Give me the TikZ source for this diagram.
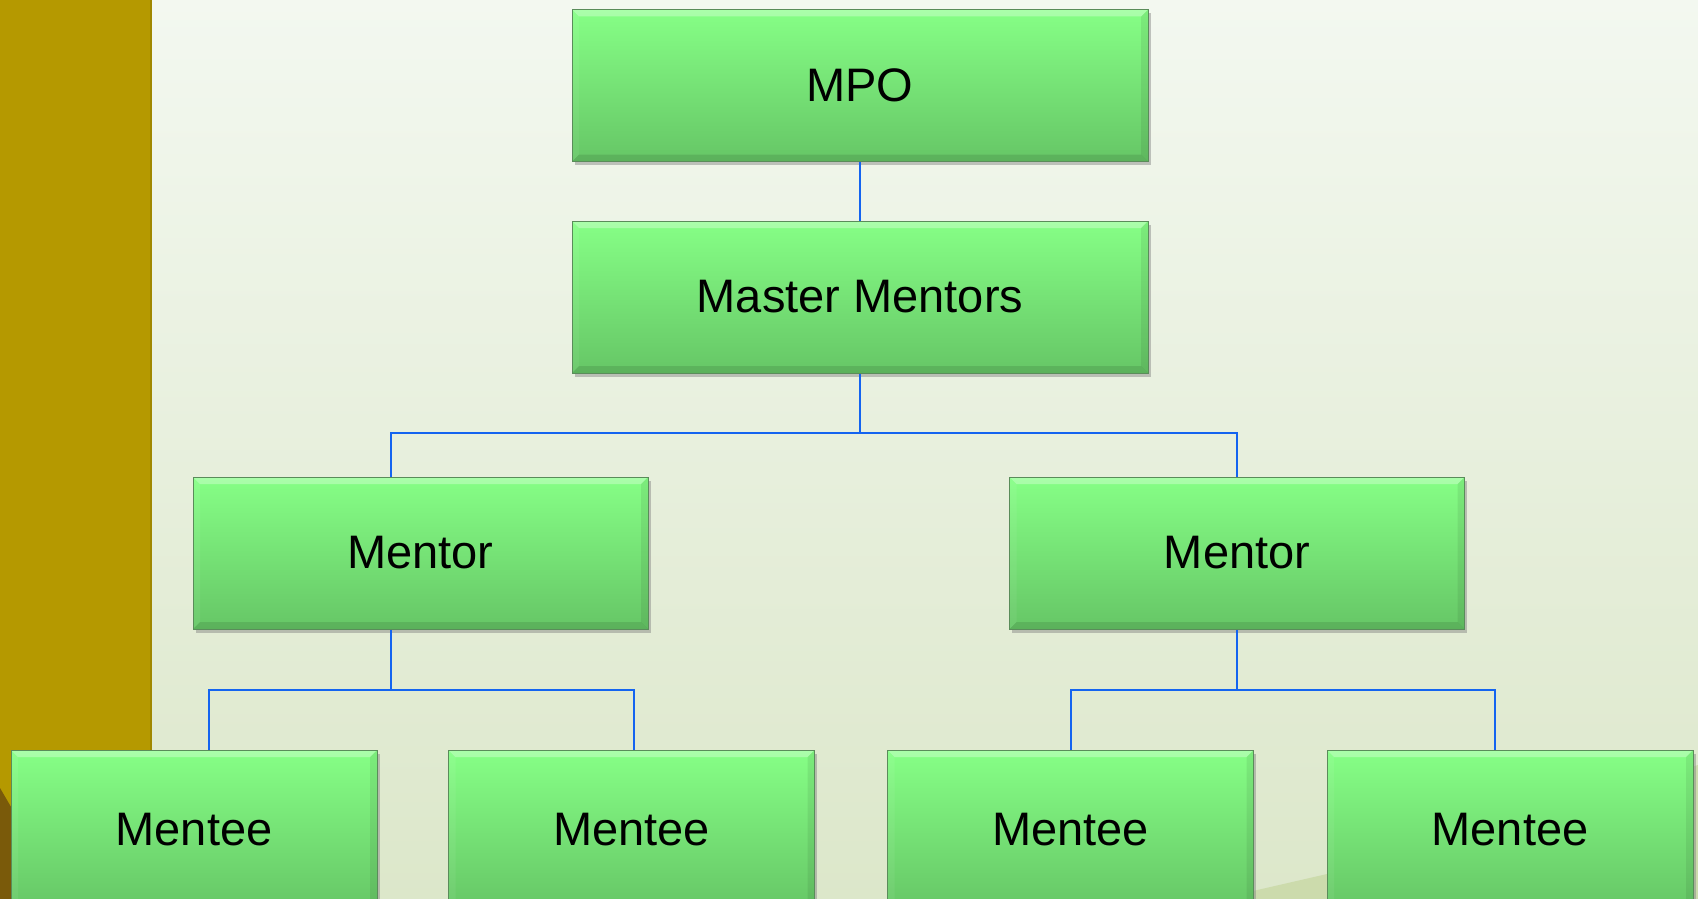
\documentclass[tikz,border=0pt]{standalone}
\usepackage{fontspec}
\setmainfont{Liberation Sans}
\usetikzlibrary{shadows,calc}
\definecolor{bgtop}{RGB}{243,248,240}
\definecolor{bgbot}{RGB}{220,231,202}
\definecolor{goldband}{RGB}{181,153,0}
\definecolor{goldedge}{RGB}{160,136,0}
\definecolor{goldbrown}{RGB}{122,90,10}
\definecolor{swoosh}{RGB}{204,219,172}
\definecolor{gtop}{RGB}{134,255,134}
\definecolor{gbot}{RGB}{102,198,102}
\definecolor{boxline}{RGB}{90,140,90}
\definecolor{connblue}{RGB}{20,100,240}
\begin{document}
\begin{tikzpicture}[x=1pt,y=-1pt,
  orgbox/.style={rectangle, minimum width=#1, minimum height=152pt, inner sep=0pt,
    draw=boxline, line width=1pt, top color=gtop, bottom color=gbot,
    drop shadow={shadow xshift=2.5pt, shadow yshift=-3.5pt, opacity=0.45},
    font=\fontsize{47}{52}\selectfont,
    path picture={
      \fill[white,opacity=0.3] (path picture bounding box.north west) -- (path picture bounding box.north east)
        -- ([xshift=-7pt,yshift=-7pt]path picture bounding box.north east) -- ([xshift=7pt,yshift=-7pt]path picture bounding box.north west) -- cycle;
      \fill[black,opacity=0.1] (path picture bounding box.south west) -- (path picture bounding box.south east)
        -- ([xshift=-7pt,yshift=7pt]path picture bounding box.south east) -- ([xshift=7pt,yshift=7pt]path picture bounding box.south west) -- cycle;
      \fill[black,opacity=0.07] (path picture bounding box.north east) -- (path picture bounding box.south east)
        -- ([xshift=-7pt,yshift=7pt]path picture bounding box.south east) -- ([xshift=-7pt,yshift=-7pt]path picture bounding box.north east) -- cycle;
      \fill[white,opacity=0.06] (path picture bounding box.north west) -- (path picture bounding box.south west)
        -- ([xshift=7pt,yshift=7pt]path picture bounding box.south west) -- ([xshift=7pt,yshift=-7pt]path picture bounding box.north west) -- cycle;
    }},
  conn/.style={draw=connblue, line width=2pt}]
\useasboundingbox (0,0) rectangle (1698,899);
% background
\shade[top color=bgtop, bottom color=bgbot] (0,0) rectangle (1698,899);
\fill[swoosh] (1150,899) -- (1253,891) -- (1327,874) .. controls (1480,838) and (1600,795) .. (1698,765) -- (1698,899) -- cycle;
\fill[goldband] (0,0) rectangle (152,899);
\draw[goldedge, line width=1.5pt] (151,0) -- (151,899);
\fill[goldbrown] (0,788) -- (14,812) -- (14,899) -- (0,899) -- cycle;
% nodes
\node[orgbox=576pt] (mpo) at (860,85.5) {MPO};
\node[orgbox=576pt] (mm) at (860,297) {Master Mentors};
\node[orgbox=455pt] (mL) at (420.5,553) {Mentor};
\node[orgbox=455pt] (mR) at (1237,553) {Mentor};
\node[orgbox=366pt, minimum height=160pt] (e1) at (194,830) {Mentee};
\node[orgbox=366pt, minimum height=160pt] (e2) at (631.5,830) {Mentee};
\node[orgbox=366pt, minimum height=160pt] (e3) at (1070.5,830) {Mentee};
\node[orgbox=366pt, minimum height=160pt] (e4) at (1510,830) {Mentee};
% bus junctions
\coordinate (j0) at (860,433);
\coordinate (jL) at (391,690);
\coordinate (jR) at (1237,690);
% connectors
\draw[conn] (mpo.south) -- (mm.north);
\draw[conn] (mm.south) -- (j0);
\draw[conn] ([xshift=-29.5pt]mL.north) |- (j0) -| (mR.north);
\draw[conn] ([xshift=-29.5pt]mL.south) -- (jL);
\draw[conn] ([xshift=15pt]e1.north) |- (jL) -| ([xshift=2.5pt]e2.north);
\draw[conn] (mR.south) -- (jR);
\draw[conn] (e3.north) |- (jR) -| ([xshift=-15pt]e4.north);
\end{tikzpicture}
\end{document}
